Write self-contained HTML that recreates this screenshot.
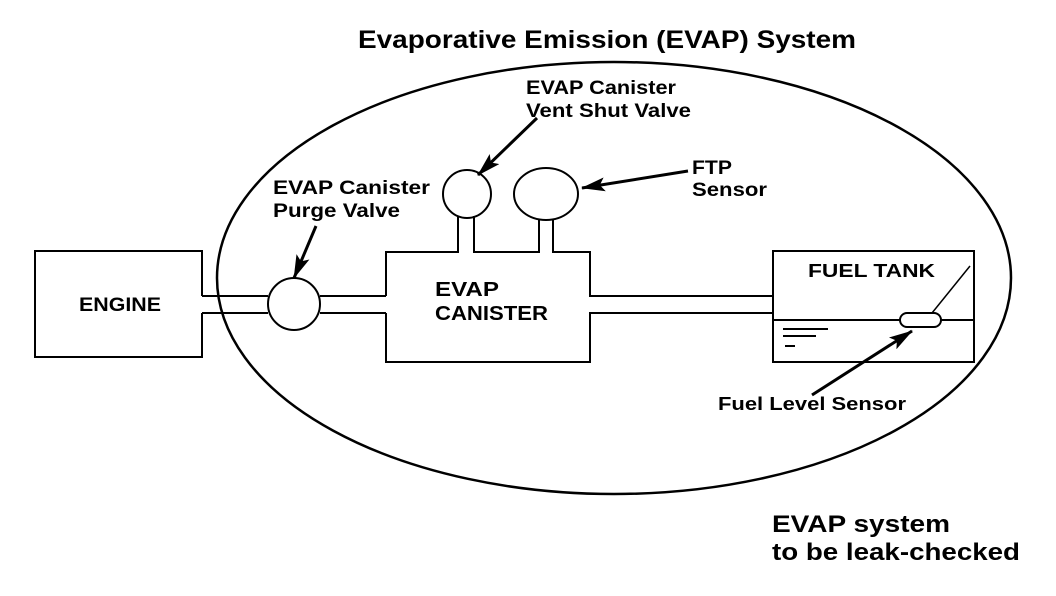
<!DOCTYPE html>
<html><head><meta charset="utf-8"><style>
html,body{margin:0;padding:0;background:#fff}
svg{display:block}
text{font-family:"Liberation Sans",Arial,sans-serif;font-weight:bold;fill:#000}
</style></head><body>
<svg width="1056" height="596" viewBox="0 0 1056 596" xmlns="http://www.w3.org/2000/svg">
<defs>
<marker id="b" viewBox="0 0 24 14" markerWidth="24" markerHeight="14" refX="23" refY="7" orient="auto" markerUnits="userSpaceOnUse"><path d="M0,0 L24,7 L0,14 L5,7 Z"/></marker></defs>
<g fill="none" stroke="#000" stroke-width="2">
<ellipse cx="614" cy="278" rx="397" ry="216" stroke-width="2.5"/>
<path d="M202,296 V251 H35 V357 H202 V313"/>
<line x1="202" y1="296" x2="268" y2="296"/><line x1="202" y1="313" x2="268" y2="313"/>
<circle cx="294" cy="304" r="26"/>
<line x1="320" y1="296" x2="386" y2="296"/><line x1="320" y1="313" x2="386" y2="313"/>
<path d="M386,296 V252 H458 V216 M474,216 V252 H539 V219 M553,219 V252 H590 V296 H773"/>
<path d="M386,313 V362 H590 V313 H773"/>
<circle cx="467" cy="194" r="24"/>
<ellipse cx="546" cy="194" rx="32" ry="26"/>
<rect x="773" y="251" width="201" height="111"/>
<line x1="773" y1="320" x2="900" y2="320"/><line x1="940" y1="320" x2="974" y2="320"/>
<rect x="900" y="313" width="41" height="14" rx="7"/>
<line x1="932" y1="313" x2="970" y2="266" stroke-width="1.5"/>
<line x1="783" y1="329" x2="828" y2="329"/><line x1="783" y1="336" x2="816" y2="336"/><line x1="785" y1="346" x2="795" y2="346"/>
<line x1="316" y1="226" x2="294" y2="278" stroke-width="3" marker-end="url(#b)"/>
<line x1="537" y1="118" x2="478" y2="175" stroke-width="3" marker-end="url(#b)"/>
<line x1="688" y1="171" x2="582" y2="188" stroke-width="3" marker-end="url(#b)"/>
<line x1="812" y1="395" x2="912" y2="331" stroke-width="3" marker-end="url(#b)"/>
</g>
<text x="358" y="48" font-size="25" textLength="498" lengthAdjust="spacingAndGlyphs">Evaporative Emission (EVAP) System</text>
<text x="526" y="94" font-size="19" textLength="150" lengthAdjust="spacingAndGlyphs">EVAP Canister</text>
<text x="526" y="117" font-size="19" textLength="165" lengthAdjust="spacingAndGlyphs">Vent Shut Valve</text>
<text x="692" y="174" font-size="19" textLength="40" lengthAdjust="spacingAndGlyphs">FTP</text>
<text x="692" y="196" font-size="19" textLength="75" lengthAdjust="spacingAndGlyphs">Sensor</text>
<text x="273" y="194" font-size="19" textLength="157" lengthAdjust="spacingAndGlyphs">EVAP Canister</text>
<text x="273" y="217" font-size="19" textLength="127" lengthAdjust="spacingAndGlyphs">Purge Valve</text>
<text x="79" y="311" font-size="19" textLength="82" lengthAdjust="spacingAndGlyphs">ENGINE</text>
<text x="435" y="296" font-size="20" textLength="64" lengthAdjust="spacingAndGlyphs">EVAP</text>
<text x="435" y="320" font-size="20" textLength="113" lengthAdjust="spacingAndGlyphs">CANISTER</text>
<text x="808" y="277" font-size="18" textLength="127" lengthAdjust="spacingAndGlyphs">FUEL TANK</text>
<text x="718" y="410" font-size="18" textLength="188" lengthAdjust="spacingAndGlyphs">Fuel Level Sensor</text>
<text x="772" y="532" font-size="24" textLength="178" lengthAdjust="spacingAndGlyphs">EVAP system</text>
<text x="772" y="560" font-size="24" textLength="248" lengthAdjust="spacingAndGlyphs">to be leak-checked</text>
</svg>
</body></html>
